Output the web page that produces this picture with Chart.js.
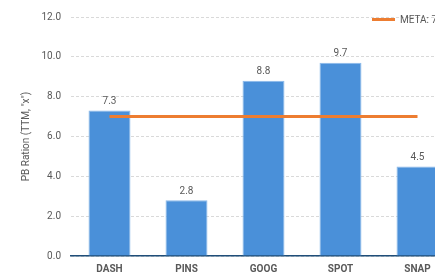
<!DOCTYPE html>
<html>
<head>
<meta charset="utf-8">
<script src="https://cdn.jsdelivr.net/npm/chart.js@4"></script>
<style>
  body { margin: 0; overflow: hidden; background: #fff; }
  #wrap { width: 470px; height: 276px; }
</style>
</head>
<body>
<div id="wrap"><canvas id="chart" width="470" height="276"></canvas></div>
<script>
// data
const tickers = ['DASH', 'PINS', 'GOOG', 'SPOT', 'SNAP'];
const pbRatio = [7.3, 2.8, 8.8, 9.7, 4.5];
const metaLine = [7, 7, 7, 7, 7];
const metaLabel = 'META: 7x';

const fontFam = 'Roboto, "Liberation Sans", sans-serif';

// value labels above the bars + the little legend in the corner
const barLabels = {
    id: 'barLabels',
    afterDatasetsDraw(chart) {
        const ctx = chart.ctx;
        const meta = chart.getDatasetMeta(0);
        ctx.save();
        ctx.font = '10px ' + fontFam;
        ctx.fillStyle = '#595959';
        ctx.textAlign = 'center';
        ctx.textBaseline = 'bottom';
        meta.data.forEach((bar, i) => {
            ctx.fillText(pbRatio[i].toFixed(1), bar.x, bar.y - 4);
        });

        // legend: orange line + label, just under the top gridline
        const top = chart.chartArea.top;
        const lx = chart.chartArea.right - 84;
        ctx.fillStyle = '#ed7d31';
        ctx.fillRect(lx, top + 1, 23, 3);
        ctx.fillStyle = '#595959';
        ctx.textAlign = 'left';
        ctx.textBaseline = 'middle';
        ctx.fillText(metaLabel, lx + 28, top + 3);
        ctx.restore();
    }
};

const chart = document.querySelector('#chart').getContext('2d');

new Chart(chart, {
    type: 'bar',
    data: {
        labels: tickers,
        datasets: [
            {
                label: 'PB',
                data: pbRatio,
                backgroundColor: '#4a90d9',
                borderColor: '#8ab9ea',
                borderWidth: 1,
                categoryPercentage: 1,
                barPercentage: 0.545,
                order: 2
            },
            {
                type: 'line',
                label: metaLabel,
                data: metaLine,
                borderColor: '#ed7d31',
                backgroundColor: '#ed7d31',
                borderWidth: 3,
                pointRadius: 0,
                order: 1
            }
        ]
    },
    options: {
        responsive: false,
        animation: false,
        layout: { padding: { top: 17, right: 14, left: 0, bottom: 0 } },
        plugins: {
            tooltip: { enabled: false },
            legend: { display: false }
        },
        scales: {
            x: {
                grid: { display: false, drawTicks: false },
                border: { color: '#1f4e79', width: 1.5 },
                ticks: {
                    color: '#595959',
                    padding: 7,
                    font: { size: 10, weight: 'bold', family: fontFam }
                },
                afterFit(scale) { scale.height = 20; }
            },
            y: {
                min: 0,
                max: 12,
                border: { display: false, dash: [3, 2] },
                grid: { color: '#d9d9d9', drawTicks: false },
                ticks: {
                    stepSize: 2,
                    padding: 10,
                    color: '#595959',
                    font: { size: 10, family: fontFam },
                    callback: (v) => v.toFixed(1)
                },
                title: {
                    display: true,
                    text: 'PB Ration (TTM, "x")',
                    color: '#595959',
                    padding: { top: 20, bottom: 0 },
                    font: { size: 10, family: fontFam }
                },
                afterFit(scale) { scale.width = 71; }
            }
        }
    },
    plugins: [barLabels]
});
</script>
</body>
</html>
